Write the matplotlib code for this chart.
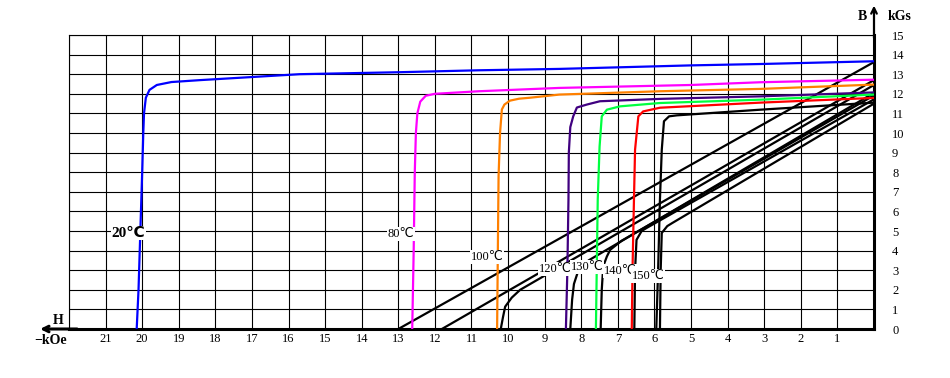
import matplotlib
matplotlib.use('Agg')
import matplotlib.pyplot as plt

# intrinsic (J) curves: H in kOe (drawn to the left), B in kGs
h_20 = [20.15, 20.1, 20.05, 20.0, 19.97, 19.95, 19.9, 19.8, 19.6, 19.2, 18.4, 15.7, 13.0, 10.8, 8.6, 5.0, 3.1, 0]
b_20 = [0, 2, 5, 8, 10, 11, 11.8, 12.2, 12.45, 12.6, 12.7, 13.0, 13.1, 13.2, 13.27, 13.45, 13.52, 13.66]

h_80 = [12.62, 12.58, 12.55, 12.52, 12.48, 12.4, 12.25, 12.0, 10.8, 8.6, 5.0, 3.1, 0]
b_80 = [0, 4, 8, 10, 11, 11.6, 11.9, 12.0, 12.13, 12.3, 12.45, 12.59, 12.72]

h_100 = [10.3, 10.28, 10.26, 10.22, 10.17, 10.1, 9.95, 9.7, 9.4, 8.6, 5.85, 3.1, 0]
b_100 = [0, 4, 7.8, 10, 11.2, 11.45, 11.65, 11.75, 11.8, 11.96, 12.13, 12.25, 12.47]

h_120 = [8.42, 8.38, 8.35, 8.34, 8.3, 8.22, 8.12, 7.85, 7.49, 5.85, 3.1, 0]
b_120 = [0, 3, 6.6, 9, 10.3, 10.85, 11.3, 11.45, 11.62, 11.74, 11.87, 12.07]

h_130 = [7.6, 7.57, 7.55, 7.5, 7.44, 7.3, 6.94, 5.85, 3.1, 0]
b_130 = [0, 4, 6.6, 9.3, 10.85, 11.19, 11.36, 11.53, 11.7, 11.96]

h_140 = [6.62, 6.6, 6.56, 6.53, 6.44, 6.31, 5.85, 3.1, 0]
b_140 = [0, 3, 6.6, 9.15, 10.85, 11.1, 11.29, 11.55, 11.79]

h_150 = [5.95, 5.9, 5.85, 5.8, 5.74, 5.6, 5.39, 3.1, 0]
b_150 = [0, 3, 6.6, 9.15, 10.6, 10.85, 10.9, 11.19, 11.55]

# normal (B) curves, all drawn in black
bh_20 = [13.0, 0]
bb_20 = [0, 13.62]
bh_80 = [11.81, 0]
bb_80 = [0, 12.7]
bh_100 = [10.2, 10.14, 10.08, 9.9, 9.67, 0]
bb_100 = [0, 0.6, 1.14, 1.6, 2.0, 12.45]
bh_120 = [8.3, 8.25, 8.2, 8.09, 7.8, 0]
bb_120 = [0, 1.5, 2.3, 2.93, 3.5, 12.05]
bh_130 = [7.47, 7.44, 7.4, 7.3, 7.21, 6.9, 0]
bb_130 = [0, 2, 3.2, 3.7, 4.04, 4.5, 11.92]
bh_140 = [6.55, 6.53, 6.49, 6.35, 6.21, 0]
bb_140 = [0, 3, 4.55, 5.0, 5.16, 11.72]
bh_150 = [5.85, 5.83, 5.8, 5.65, 5.52, 0]
bb_150 = [0, 3, 4.9, 5.25, 5.4, 11.5]

temp_labels = ['20℃', '80℃', '100℃', '120℃', '130℃', '140℃', '150℃']
label_h = [20.38, 12.92, 10.57, 8.72, 7.84, 6.94, 6.17]
label_b = [4.9, 4.85, 3.68, 3.07, 3.17, 2.96, 2.7]

x_ticks = list(range(1, 22))
y_ticks = list(range(0, 16))

fonts = ['Liberation Serif', 'DejaVu Sans']

fig = plt.figure(figsize=(9.5, 3.78), dpi=100)
ax = fig.add_axes([69 / 950, 49 / 378, 805 / 950, 294 / 378])

ax.set_xlim(22, 0)
ax.set_ylim(0, 15)
ax.set_xticks(range(0, 23))
ax.set_yticks(y_ticks)
ax.grid(True, color='black', linewidth=0.8, zorder=0)
ax.set_axisbelow(True)

ax.set_xticklabels(['' if (t == 0 or t == 22) else str(t) for t in range(0, 23)], family=fonts, fontsize=9)
ax.set_yticklabels([str(t) for t in y_ticks], family=fonts, fontsize=9)
ax.yaxis.tick_right()
ax.tick_params(axis='both', length=0)
ax.tick_params(axis='x', pad=3)
ax.tick_params(axis='y', pad=13)
for lbl in ax.get_yticklabels():
    lbl.set_horizontalalignment('left')

ax.spines['top'].set_linewidth(0.8)
ax.spines['left'].set_linewidth(0.8)
ax.spines['right'].set_linewidth(2.2)
ax.spines['bottom'].set_linewidth(2.2)

lw = 1.6
ax.plot(h_20, b_20, color='#0000ff', lw=lw, zorder=3)
ax.plot(h_80, b_80, color='#ff00ff', lw=lw, zorder=3)
ax.plot(h_100, b_100, color='#ff8000', lw=lw, zorder=3)
ax.plot(h_120, b_120, color='#400080', lw=lw, zorder=3)
ax.plot(h_130, b_130, color='#00ff40', lw=lw, zorder=3)
ax.plot(h_140, b_140, color='#ff0000', lw=lw, zorder=3)
ax.plot(h_150, b_150, color='black', lw=lw, zorder=3)

for hh, bb in [(bh_20, bb_20), (bh_80, bb_80), (bh_100, bb_100), (bh_120, bb_120),
               (bh_130, bb_130), (bh_140, bb_140), (bh_150, bb_150)]:
    ax.plot(hh, bb, color='black', lw=lw, zorder=2)

for i, txt in enumerate(temp_labels):
    big = i == 0
    ax.text(label_h[i], label_b[i], txt, ha='center', va='center',
            family=fonts, fontsize=11 if big else 9,
            fontweight='bold' if big else 'normal', zorder=5,
            bbox=dict(facecolor='white', edgecolor='none', pad=0.5))

# axis arrows
ax.annotate('', xy=(1, 1.1), xytext=(1, 0.99), xycoords='axes fraction',
            arrowprops=dict(arrowstyle='->', lw=1.6, color='black', shrinkA=0, shrinkB=0))
ax.annotate('', xy=(-0.036, 0), xytext=(0.01, 0), xycoords='axes fraction',
            arrowprops=dict(arrowstyle='->', lw=2.2, color='black', shrinkA=0, shrinkB=0))

fig.text(862 / 950, 1 - 17 / 378, 'B', ha='center', va='center', family=fonts, fontsize=10, fontweight='bold')
fig.text(888 / 950, 1 - 17 / 378, 'kGs', ha='left', va='center', family=fonts, fontsize=10, fontweight='bold')
fig.text(58 / 950, 1 - 320 / 378, 'H', ha='center', va='center', family=fonts, fontsize=10, fontweight='bold')
fig.text(51 / 950, 1 - 340 / 378, '−kOe', ha='center', va='center', family=fonts, fontsize=10, fontweight='bold')

fig.savefig('out.png', dpi=100)
